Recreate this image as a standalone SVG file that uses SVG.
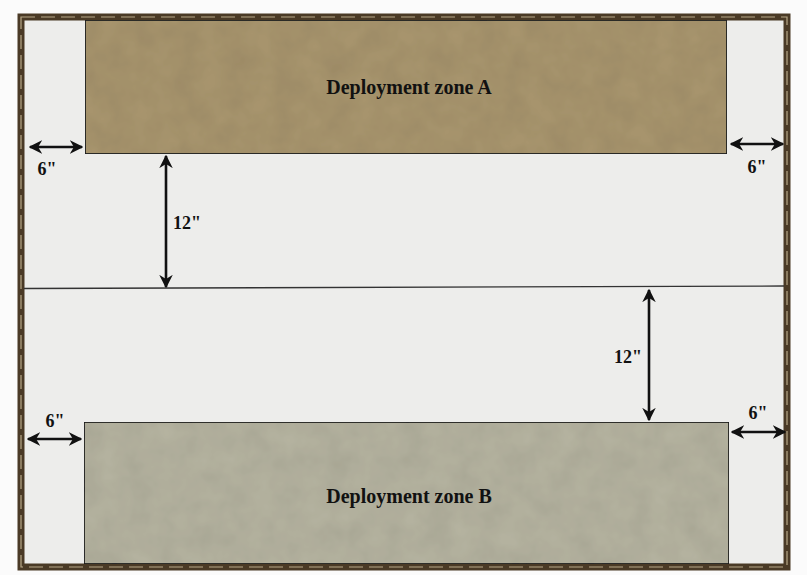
<svg xmlns="http://www.w3.org/2000/svg" width="807" height="575" viewBox="0 0 807 575">
<defs>
<marker id="ah" viewBox="0 0 10 10" refX="9" refY="5" markerWidth="5.2" markerHeight="5.2" orient="auto-start-reverse" markerUnits="strokeWidth">
<path d="M0,0 L10,5 L0,10 L3,5 Z" fill="#111"/>
</marker>
<filter id="grain" x="0" y="0" width="100%" height="100%">
<feTurbulence type="fractalNoise" baseFrequency="0.04" numOctaves="3" seed="4" result="n"/>
<feColorMatrix in="n" type="matrix" values="0 0 0 0 0  0 0 0 0 0  0 0 0 0 0  0 0 0 0.18 0" result="a"/>
<feComposite in="a" in2="SourceGraphic" operator="in" result="b"/>
<feMerge><feMergeNode in="SourceGraphic"/><feMergeNode in="b"/></feMerge>
</filter>
</defs>
<style>
.dim{stroke:#111;stroke-width:2.6;fill:none;marker-start:url(#ah);marker-end:url(#ah)}
.lbl{font-family:"Liberation Serif","DejaVu Serif",serif;font-weight:bold;fill:#111}
.dl{font-size:18px}
.zl{font-size:20px;text-anchor:middle}
.zone{stroke:#222;stroke-width:1.8}
</style>
<rect width="807" height="575" fill="#fbfbfb"/>
<g id="table">
<rect x="21" y="17" width="766" height="550" fill="#ededeb"/>
<rect x="21" y="17" width="766" height="550" fill="none" stroke="#4a3a26" stroke-width="7"/>
<rect x="21" y="17" width="766" height="550" fill="none" stroke="#b8a888" stroke-width="1.2" stroke-dasharray="14 6"/>
</g>
<g id="zoneA">
<rect class="zone" x="85" y="20" width="642" height="134" fill="#aa976f" filter="url(#grain)"/>
<text class="lbl zl" x="409" y="94">Deployment zone A</text>
</g>
<g id="zoneB">
<rect class="zone" x="84" y="422" width="645" height="142" fill="#b7b5a2" filter="url(#grain)"/>
<text class="lbl zl" x="409" y="503">Deployment zone B</text>
</g>
<g id="centerline">
<line x1="24" y1="288.5" x2="784" y2="286" stroke="#333" stroke-width="1.3"/>
</g>
<g id="connectors">
<line class="dim" x1="30" y1="147" x2="82" y2="147"/>
<line class="dim" x1="731" y1="144" x2="783" y2="144"/>
<line class="dim" x1="166" y1="156" x2="166" y2="287"/>
<line class="dim" x1="649" y1="290" x2="649" y2="420"/>
<line class="dim" x1="28" y1="439" x2="81" y2="439"/>
<line class="dim" x1="732" y1="432" x2="785" y2="432"/>
</g>
<g id="labels">
<text class="lbl dl" x="47" y="175" text-anchor="middle">6"</text>
<text class="lbl dl" x="757" y="173" text-anchor="middle">6"</text>
<text class="lbl dl" x="187" y="229" text-anchor="middle">12"</text>
<text class="lbl dl" x="628" y="363" text-anchor="middle">12"</text>
<text class="lbl dl" x="55" y="427" text-anchor="middle">6"</text>
<text class="lbl dl" x="758" y="419" text-anchor="middle">6"</text>
</g>
</svg>
